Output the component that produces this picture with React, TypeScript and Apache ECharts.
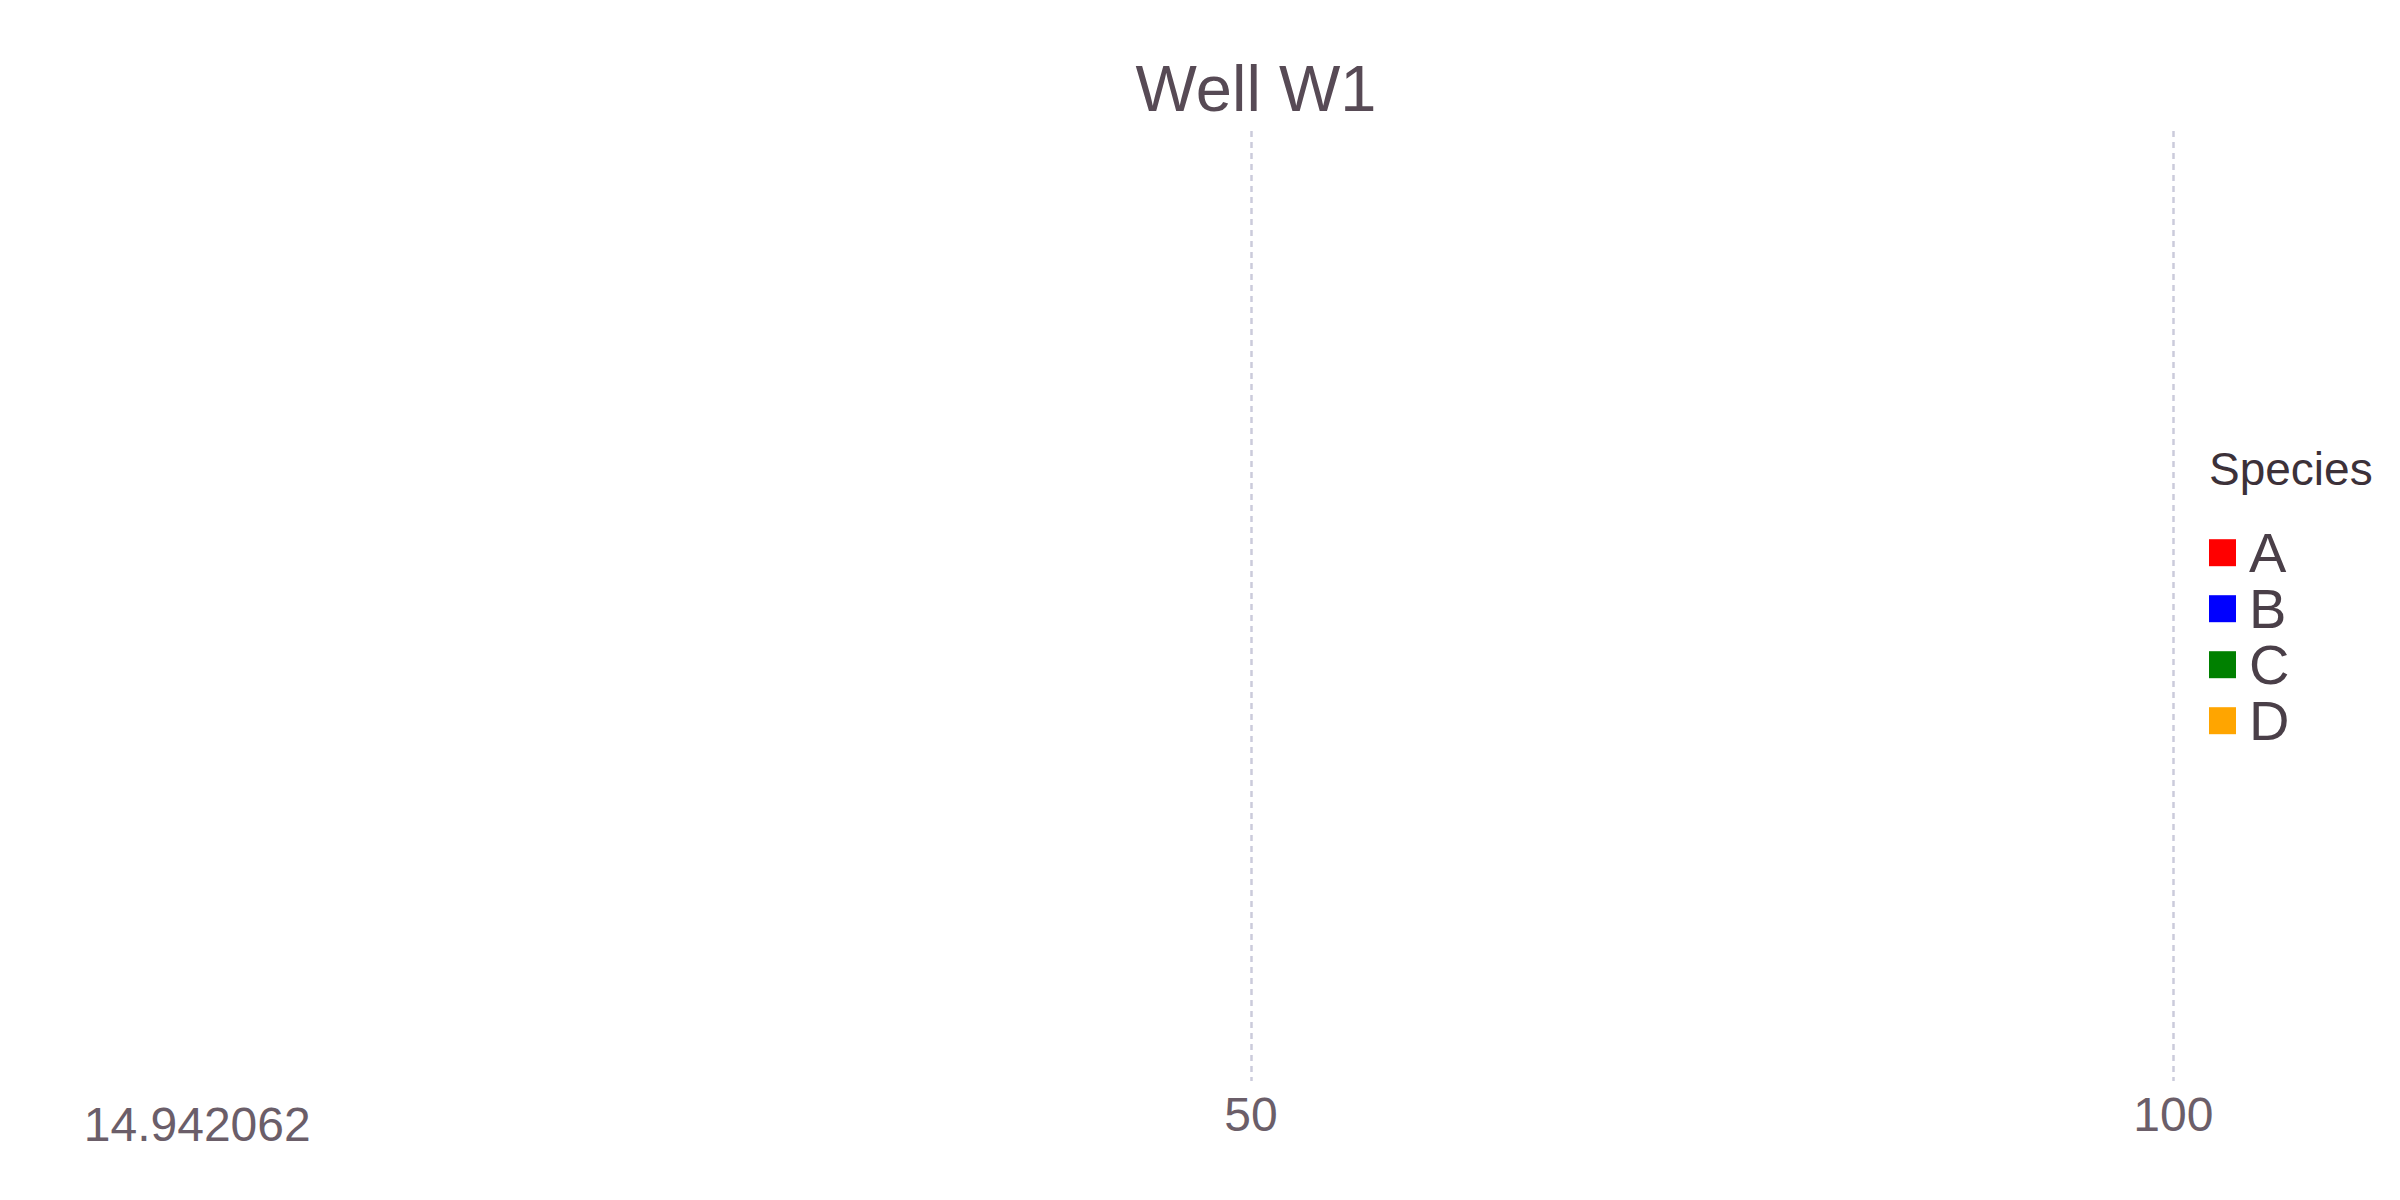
import React, { useEffect, useRef } from "react";
import * as echarts from "echarts";

// ---- data ----
const TITLE = "Well W1";
const LEGEND_TITLE = "Species";
const SPECIES = ["A", "B", "C", "D"];
const SPECIES_COLORS = ["#ff0000", "#0000ff", "#008000", "#ffa500"];
const DEPTHS = ["14.942062"];
// No bars are visible in the reference: every series is empty
const speciesA: number[] = [];
const speciesB: number[] = [];
const speciesC: number[] = [];
const speciesD: number[] = [];
const SERIES_VALUES = [speciesA, speciesB, speciesC, speciesD];
const X_MIN = 0;
const X_MAX = 100;
const X_STEP = 50;

const FONT = "Liberation Sans";

export default function App() {
  const ref = useRef<HTMLDivElement>(null);
  useEffect(() => {
    document.body.style.margin = "0";
    document.body.style.overflow = "hidden";
    const chart = echarts.init(ref.current!, undefined, { renderer: "svg" });
    const gridLeft = 328.7;
    const gridRight = 226.7;
    chart.setOption({
      animation: false,
      backgroundColor: "#ffffff",
      textStyle: { fontFamily: FONT },
      title: [
        {
          text: TITLE,
          left: 1256,
          top: 55.5,
          padding: 0,
          textAlign: "center",
          textStyle: { fontFamily: FONT, fontSize: 65, fontWeight: "normal", color: "#574a55" },
        },
        {
          text: LEGEND_TITLE,
          left: 2209,
          top: 446,
          padding: 0,
          textStyle: { fontFamily: FONT, fontSize: 46, fontWeight: "normal", color: "#3c3139" },
        },
      ],
      legend: {
        orient: "vertical",
        left: 2209,
        top: 524.7,
        padding: 0,
        itemGap: 0,
        itemWidth: 27,
        itemHeight: 27,
        icon: "rect",
        data: SPECIES,
        textStyle: {
          fontFamily: FONT,
          fontSize: 56,
          lineHeight: 44,
          color: "#4a3f48",
          padding: [0, 0, 10, 8],
        },
      },
      grid: [
        { left: gridLeft, right: gridRight, top: 131, bottom: 119, containLabel: false },
        { left: gridLeft, right: gridRight, top: 1100, height: 49, containLabel: false },
      ],
      xAxis: [
        {
          type: "value",
          gridIndex: 0,
          min: X_MIN,
          max: X_MAX,
          interval: X_STEP,
          axisLine: { show: false },
          axisTick: { show: false },
          axisLabel: {
            showMinLabel: false,
            margin: 9,
            fontFamily: FONT,
            fontSize: 48,
            color: "#6b5e69",
          },
          splitLine: {
            show: true,
            showMinLine: false,
            lineStyle: { color: "#cbcbdb", width: 2.5, type: [6, 5] },
          },
        },
        { type: "value", gridIndex: 1, show: false, min: X_MIN, max: X_MAX },
      ],
      yAxis: [
        { type: "category", gridIndex: 0, data: DEPTHS, show: false },
        {
          type: "category",
          gridIndex: 1,
          data: DEPTHS,
          axisLine: { show: false },
          axisTick: { show: false },
          splitLine: { show: false },
          axisLabel: { margin: 18, fontFamily: FONT, fontSize: 48, color: "#6b5e69" },
        },
      ],
      series: SPECIES.map((name, i) => ({
        name,
        type: "bar",
        stack: "total",
        xAxisIndex: 0,
        yAxisIndex: 0,
        itemStyle: { color: SPECIES_COLORS[i] },
        data: SERIES_VALUES[i],
      })),
    });
    return () => chart.dispose();
  }, []);
  return <div ref={ref} style={{ width: 2400, height: 1200 }} />;
}
